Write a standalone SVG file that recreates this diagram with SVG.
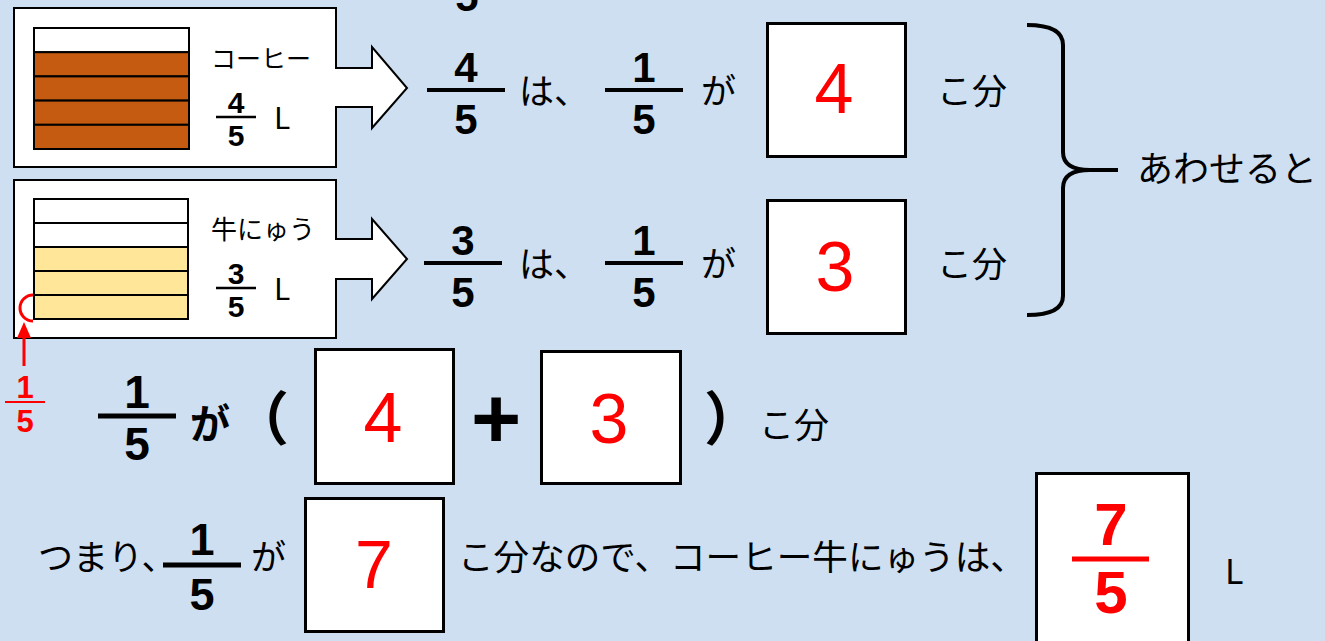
<svg xmlns="http://www.w3.org/2000/svg" width="1325" height="641" viewBox="0 0 1325 641">
<style>
.jp{font-family:"Noto Sans CJK JP","Noto Sans",sans-serif;fill:#000}
.num{font-family:"Liberation Sans",Arial,sans-serif;font-weight:bold;fill:#000}
.red{font-family:"Liberation Sans",Arial,sans-serif;fill:#FF0000}
.card{fill:#fff;stroke:#000;stroke-width:2}
.bar{stroke:#000;stroke-width:2}
.box{fill:#fff;stroke:#000;stroke-width:3}
.fl{stroke:#000;stroke-width:4}
</style>
<rect width="1325" height="641" fill="#CDDFF1"/>

<text class="num" x="467" y="11" font-size="42" text-anchor="middle">5</text>

<g id="coffee-card">
<path class="card" d="M14,8 H336 V68 H372 V47 L407,88 L372,128 V107 H336 V167 H14 Z"/>
<rect class="bar" x="34" y="28" width="155" height="24.2" fill="#fff"/>
<rect class="bar" x="34" y="52.2" width="155" height="24.2" fill="#C55A11"/>
<rect class="bar" x="34" y="76.4" width="155" height="24.2" fill="#C55A11"/>
<rect class="bar" x="34" y="100.6" width="155" height="24.2" fill="#C55A11"/>
<rect class="bar" x="34" y="124.8" width="155" height="24.2" fill="#C55A11"/>
<text class="jp" x="211" y="68" font-size="25">コーヒー</text>
<text class="num" x="236" y="113" font-size="30" text-anchor="middle">4</text>
<line x1="216" y1="117" x2="256" y2="117" stroke="#000" stroke-width="2.5"/>
<text class="num" x="236" y="146" font-size="30" text-anchor="middle">5</text>
<text class="jp" x="274" y="129" font-size="30">L</text>
</g>

<g id="milk-card">
<path class="card" d="M14,180 H336 V239 H372 V219 L407,259 L372,299 V279 H336 V338 H14 Z"/>
<rect class="bar" x="34" y="199" width="154" height="24" fill="#fff"/>
<rect class="bar" x="34" y="223" width="154" height="24" fill="#fff"/>
<rect class="bar" x="34" y="247" width="154" height="24" fill="#FFE699"/>
<rect class="bar" x="34" y="271" width="154" height="24" fill="#FFE699"/>
<rect class="bar" x="34" y="295" width="154" height="24" fill="#FFE699"/>
<text class="jp" x="211" y="239" font-size="26">牛にゅう</text>
<text class="num" x="236" y="284" font-size="30" text-anchor="middle">3</text>
<line x1="216" y1="288" x2="256" y2="288" stroke="#000" stroke-width="2.5"/>
<text class="num" x="236" y="317" font-size="30" text-anchor="middle">5</text>
<text class="jp" x="274" y="300" font-size="30">L</text>
</g>

<g id="row1">
<text class="num" x="466" y="82" font-size="42" text-anchor="middle">4</text>
<line class="fl" x1="427" y1="90" x2="505" y2="90"/>
<text class="num" x="466" y="134" font-size="42" text-anchor="middle">5</text>
<text class="jp" x="519" y="104" font-size="35">は、</text>
<text class="num" x="644" y="82" font-size="42" text-anchor="middle">1</text>
<line class="fl" x1="605" y1="90" x2="683" y2="90"/>
<text class="num" x="644" y="134" font-size="42" text-anchor="middle">5</text>
<text class="jp" x="701" y="104" font-size="35">が</text>
<rect class="box" x="767.5" y="23.5" width="138" height="133"/>
<text class="red" x="834" y="113" font-size="70" text-anchor="middle">4</text>
<text class="jp" x="937" y="104" font-size="35">こ分</text>
</g>

<g id="row2">
<text class="num" x="463" y="255" font-size="42" text-anchor="middle">3</text>
<line class="fl" x1="424" y1="263" x2="502" y2="263"/>
<text class="num" x="463" y="307" font-size="42" text-anchor="middle">5</text>
<text class="jp" x="519" y="277" font-size="35">は、</text>
<text class="num" x="644" y="255" font-size="42" text-anchor="middle">1</text>
<line class="fl" x1="605" y1="263" x2="683" y2="263"/>
<text class="num" x="644" y="307" font-size="42" text-anchor="middle">5</text>
<text class="jp" x="701" y="277" font-size="35">が</text>
<rect class="box" x="767.5" y="200.5" width="138" height="133"/>
<text class="red" x="835" y="291" font-size="70" text-anchor="middle">3</text>
<text class="jp" x="937" y="277" font-size="35">こ分</text>
</g>

<g id="total-label">
<text class="jp" x="1137" y="182" font-size="36">あわせると</text>
</g>

<g id="unit-label">
<path d="M33,295 A13,13 0 0 0 33,321" fill="none" stroke="#FF0000" stroke-width="3"/>
<text class="red" x="25" y="398" font-size="31" font-weight="bold" text-anchor="middle">1</text>
<line x1="5" y1="402" x2="45" y2="402" stroke="#FF0000" stroke-width="2"/>
<text class="red" x="25" y="432" font-size="31" font-weight="bold" text-anchor="middle">5</text>
</g>

<g id="row3">
<text class="num" x="137" y="408" font-size="46" text-anchor="middle">1</text>
<line x1="98" y1="416" x2="176" y2="416" stroke="#000" stroke-width="5"/>
<text class="num" x="137" y="460" font-size="46" text-anchor="middle">5</text>
<text class="jp" x="190" y="438" font-size="40" font-weight="bold">が</text>
<text class="jp" x="231" y="440" font-size="58" font-weight="bold">（</text>
<rect class="box" x="315.5" y="349.5" width="138" height="134"/>
<text class="red" x="383" y="442" font-size="70" text-anchor="middle">4</text>
<text class="num" x="496" y="448" font-size="86" text-anchor="middle">+</text>
<rect class="box" x="541.5" y="351.5" width="139" height="132"/>
<text class="red" x="609" y="443" font-size="70" text-anchor="middle">3</text>
<text class="jp" x="704" y="440" font-size="58" font-weight="bold">）</text>
<text class="jp" x="759" y="438" font-size="35">こ分</text>
</g>

<g id="row4">
<text class="jp" x="38" y="570" font-size="35">つまり、</text>
<text class="num" x="202" y="555" font-size="45" text-anchor="middle">1</text>
<line x1="163" y1="565" x2="241" y2="565" stroke="#000" stroke-width="5"/>
<text class="num" x="202" y="610" font-size="45" text-anchor="middle">5</text>
<text class="jp" x="251" y="570" font-size="35">が</text>
<rect class="box" x="305.5" y="498.5" width="138" height="133"/>
<text class="red" x="374" y="588" font-size="68" text-anchor="middle">7</text>
<text class="jp" x="458" y="570" font-size="35.6">こ分なので、コーヒー牛にゅうは、</text>
<rect class="box" x="1036.5" y="473.5" width="152" height="180"/>
<text class="red" x="1111" y="545" font-size="60" font-weight="bold" text-anchor="middle">7</text>
<line x1="1072" y1="559" x2="1149" y2="559" stroke="#FF0000" stroke-width="5"/>
<text class="red" x="1111" y="613" font-size="60" font-weight="bold" text-anchor="middle">5</text>
<text class="jp" x="1225" y="584" font-size="34">L</text>
</g>

<g id="connectors">
<path d="M1027,25 Q1063,25 1063,45 L1063,152 Q1063,170 1090,170 L1118,170 M1090,170 Q1063,170 1063,188 L1063,296 Q1063,315 1027,315" fill="none" stroke="#000" stroke-width="4"/>
<line x1="24" y1="366" x2="24" y2="334" stroke="#FF0000" stroke-width="3"/>
<polygon points="24,322 17,338 31,338" fill="#FF0000"/>
</g>
</svg>
